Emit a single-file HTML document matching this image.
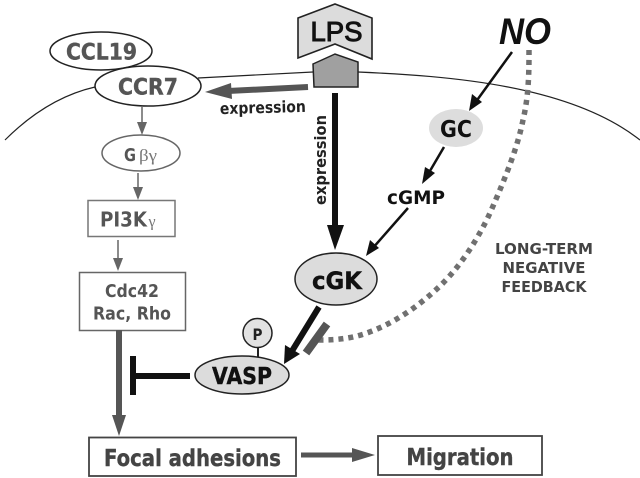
<!DOCTYPE html>
<html><head><meta charset="utf-8"><style>
html,body{margin:0;padding:0;background:#fff}
svg{display:block}
text{font-family:"DejaVu Sans","Liberation Sans",sans-serif;font-weight:bold;text-anchor:middle}
</style></head><body>
<svg width="640" height="478" viewBox="0 0 640 478" xmlns="http://www.w3.org/2000/svg">
<rect width="640" height="478" fill="#fff"/>
<!-- membrane -->
<path d="M5 140 C30 115 60 95 95 87" fill="none" stroke="#222" stroke-width="1.2"/>
<path d="M198 78 L313 72" fill="none" stroke="#222" stroke-width="1.2"/>
<path d="M358 72 C450 76 570 85 640 140" fill="none" stroke="#222" stroke-width="1.2"/>
<!-- dotted feedback -->
<path d="M529 50 C529 70 529 95 523 120 C518 145 508 172 490 213 C480 235 462 265 440 286 C420 305 395 323 367 333 C350 339 335 340 318 340" fill="none" stroke="#707070" stroke-width="5.500" stroke-dasharray="5 5"/>
<!-- LPS -->
<polygon points="298,18 335,4 372,18 372,59 335,44 298,58" fill="#dcdcdc" stroke="#222" stroke-width="1.6"/>
<text x="336.500" y="41" font-size="28" textLength="52" lengthAdjust="spacingAndGlyphs" style="font-family:'Liberation Sans',sans-serif;font-weight:normal;stroke:#111;stroke-width:1" fill="#111">LPS</text>
<polygon points="313,64 335,54 358,62 358,87 314,87" fill="#a0a0a0" stroke="#222" stroke-width="1.5"/>
<!-- NO -->
<text x="525" y="44" font-size="37" textLength="52" lengthAdjust="spacingAndGlyphs" style="font-family:'Liberation Sans',sans-serif;font-style:italic" fill="#111">NO</text>
<!-- CCL19 / CCR7 -->
<ellipse cx="101" cy="51" rx="51" ry="19" fill="#fff" stroke="#222" stroke-width="1.5"/>
<text x="101.500" y="59.500" font-size="22" textLength="71" lengthAdjust="spacingAndGlyphs" fill="#555" stroke="#555" stroke-width=".4">CCL19</text>
<ellipse cx="148" cy="86" rx="53" ry="20" fill="#fff" stroke="#222" stroke-width="1.5"/>
<text x="148" y="94.500" font-size="22" textLength="60" lengthAdjust="spacingAndGlyphs" fill="#555" stroke="#555" stroke-width=".4">CCR7</text>
<!-- expression arrow horizontal -->
<line x1="308" y1="87" x2="228" y2="91" stroke="#555" stroke-width="6"/>
<polygon points="205,92 231,83 232,99" fill="#555"/>
<text x="263" y="113" font-size="16" textLength="86" lengthAdjust="spacingAndGlyphs" fill="#222" transform="rotate(-1.500 263 113)">expression</text>
<!-- left chain -->
<line x1="142" y1="106" x2="142" y2="125" stroke="#666" stroke-width="1.5"/>
<polygon points="142,135 137,122 147,122" fill="#666"/>
<ellipse cx="141" cy="153" rx="39" ry="18" fill="#fff" stroke="#666" stroke-width="1.5"/>
<text x="130" y="161" font-size="18" textLength="12" lengthAdjust="spacingAndGlyphs" fill="#555">G</text>
<text x="148" y="161" font-size="17" style="font-family:'Liberation Serif',serif;font-weight:normal" textLength="18" lengthAdjust="spacingAndGlyphs" fill="#777">βγ</text>
<line x1="138" y1="173" x2="138" y2="190" stroke="#666" stroke-width="1.5"/>
<polygon points="138,200 133,187 143,187" fill="#666"/>
<rect x="88" y="200.500" width="87" height="36" fill="#fff" stroke="#777" stroke-width="1.500"/>
<text x="123.500" y="226.500" font-size="20" textLength="47" lengthAdjust="spacingAndGlyphs" fill="#555">PI3K</text>
<text x="152" y="226.500" font-size="16" style="font-family:'Liberation Serif',serif;font-weight:normal" fill="#777">γ</text>
<line x1="118" y1="240" x2="118" y2="261" stroke="#666" stroke-width="1.500"/>
<polygon points="118,271 113,258 123,258" fill="#666"/>
<rect x="79.500" y="272.500" width="106" height="58" fill="#fff" stroke="#666" stroke-width="1.500"/>
<text x="132" y="297" font-size="18" textLength="54" lengthAdjust="spacingAndGlyphs" fill="#555">Cdc42</text>
<text x="132" y="319.500" font-size="18" textLength="78" lengthAdjust="spacingAndGlyphs" fill="#555">Rac, Rho</text>
<line x1="119" y1="330" x2="119" y2="420" stroke="#555" stroke-width="6"/>
<polygon points="119,436 112,415 126,415" fill="#555"/>
<!-- inhibition -->
<rect x="130" y="356" width="6" height="39" fill="#111"/>
<rect x="136" y="373" width="54" height="6" fill="#111"/>
<!-- VASP -->
<line x1="258" y1="347" x2="258" y2="358" stroke="#222" stroke-width="2"/>
<circle cx="257.500" cy="333" r="14.500" fill="#e2e2e2" stroke="#222" stroke-width="1.500"/>
<text x="257.500" y="340" font-size="16" textLength="10" lengthAdjust="spacingAndGlyphs" fill="#222">P</text>
<ellipse cx="242" cy="375" rx="47" ry="19" fill="#dcdcdc" stroke="#222" stroke-width="1.500"/>
<text x="242" y="384" font-size="23" textLength="60" lengthAdjust="spacingAndGlyphs" fill="#111" stroke="#111" stroke-width=".4">VASP</text>
<!-- vertical arrow -->
<line x1="335" y1="93" x2="335" y2="232" stroke="#111" stroke-width="6"/>
<polygon points="335,250 327,225 344,225" fill="#111"/>
<text transform="translate(326 160) rotate(-90)" font-size="16" textLength="90" lengthAdjust="spacingAndGlyphs" fill="#222">expression</text>
<!-- cGK -->
<ellipse cx="336" cy="279" rx="41" ry="26" fill="#dcdcdc" stroke="#222" stroke-width="1.500"/>
<text x="337" y="289" font-size="24" textLength="50" lengthAdjust="spacingAndGlyphs" fill="#111" stroke="#111" stroke-width=".4">cGK</text>
<!-- GC -->
<line x1="512" y1="52" x2="475" y2="103" stroke="#111" stroke-width="2.500"/>
<polygon points="469,111 472,94 482,102" fill="#111"/>
<ellipse cx="456" cy="128" rx="27" ry="19" fill="#ddd"/>
<text x="456" y="137" font-size="23" textLength="32" lengthAdjust="spacingAndGlyphs" fill="#111">GC</text>
<line x1="444" y1="147" x2="427" y2="176" stroke="#111" stroke-width="2.500"/>
<polygon points="422,184 425,167 435,173" fill="#111"/>
<text x="416" y="204" font-size="19" textLength="58" lengthAdjust="spacingAndGlyphs" fill="#111">cGMP</text>
<line x1="408" y1="208" x2="372" y2="249" stroke="#111" stroke-width="2.500"/>
<polygon points="366,256 370,240 379,248" fill="#111"/>
<!-- cGK to VASP -->
<line x1="319" y1="307" x2="292" y2="351" stroke="#111" stroke-width="6"/>
<polygon points="284,364 285,345 300,354" fill="#111"/>
<line x1="327" y1="324" x2="306" y2="353" stroke="#555" stroke-width="8"/>
<!-- long-term -->
<text x="544" y="254" font-size="15" textLength="98" lengthAdjust="spacingAndGlyphs" fill="#444">LONG-TERM</text>
<text x="544" y="273" font-size="15" textLength="83" lengthAdjust="spacingAndGlyphs" fill="#444">NEGATIVE</text>
<text x="544" y="292" font-size="15" textLength="85" lengthAdjust="spacingAndGlyphs" fill="#444">FEEDBACK</text>
<!-- bottom -->
<rect x="89" y="437.500" width="207" height="38.500" fill="#fff" stroke="#444" stroke-width="1.800"/>
<text x="192.500" y="466" font-size="23" textLength="177" lengthAdjust="spacingAndGlyphs" fill="#444" stroke="#444" stroke-width=".4">Focal adhesions</text>
<line x1="301" y1="455" x2="356" y2="455" stroke="#555" stroke-width="5"/>
<polygon points="375,455 352,448 352,462" fill="#555"/>
<rect x="378" y="436" width="164" height="39" fill="#fff" stroke="#444" stroke-width="1.800"/>
<text x="460" y="465" font-size="23" textLength="107" lengthAdjust="spacingAndGlyphs" fill="#444" stroke="#444" stroke-width=".4">Migration</text>
</svg>
</body></html>
